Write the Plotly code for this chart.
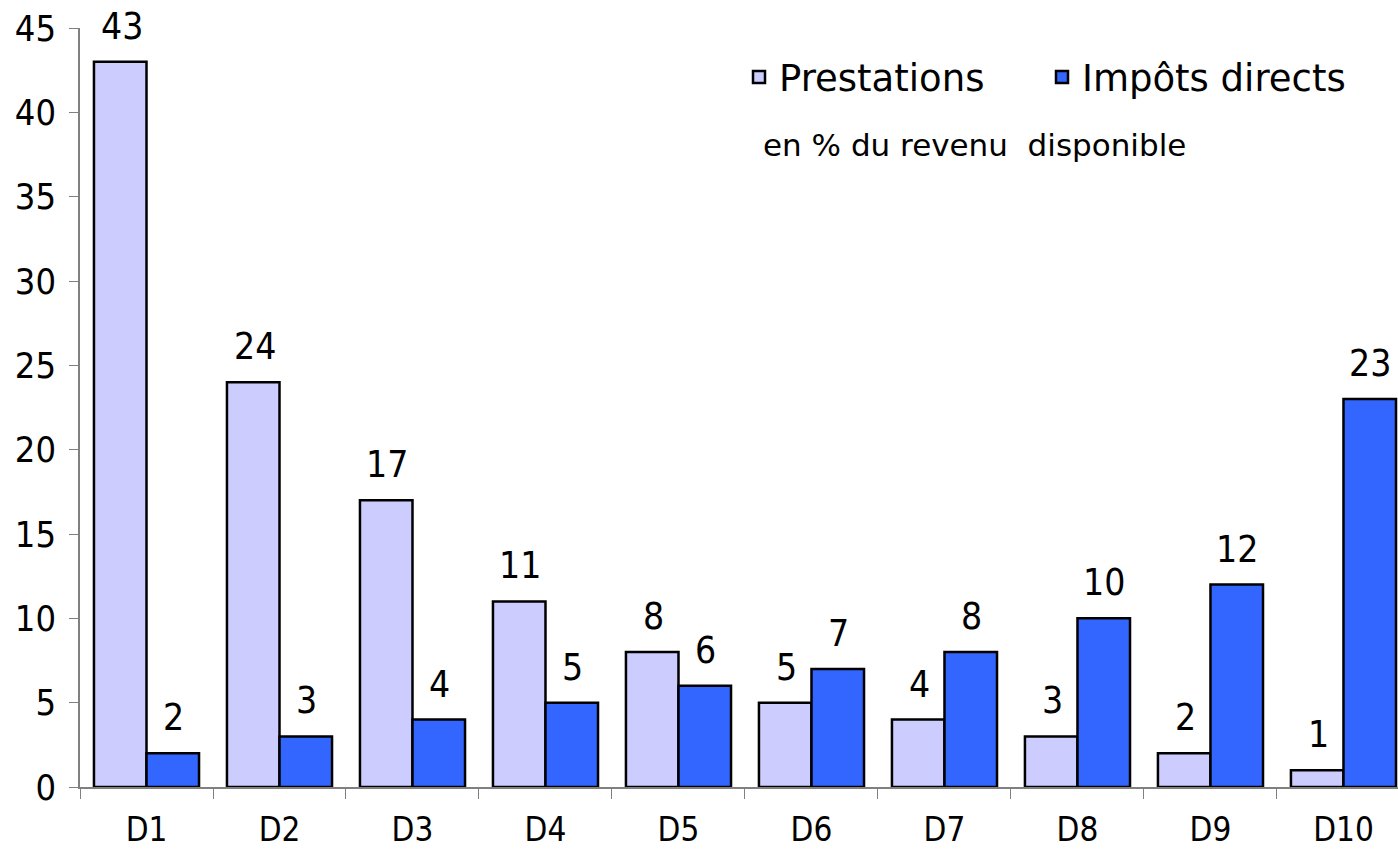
import plotly.graph_objects as go

deciles = ["D1", "D2", "D3", "D4", "D5", "D6", "D7", "D8", "D9", "D10"]
prestations = [43, 24, 17, 11, 8, 5, 4, 3, 2, 1]
impots_directs = [2, 3, 4, 5, 6, 7, 8, 10, 12, 23]

COND = "DejaVu Sans Condensed, DejaVu Sans, sans-serif"
NORMAL = "DejaVu Sans, sans-serif"

fig = go.Figure()
fig.add_trace(go.Bar(
    x=deciles, y=prestations, name="Prestations",
    marker=dict(color="#CCCCFF", line=dict(color="black", width=2.5)),
))
fig.add_trace(go.Bar(
    x=deciles, y=impots_directs, name="Impôts directs",
    marker=dict(color="#3366FF", line=dict(color="black", width=2.5)),
))

# étiquettes de valeurs au-dessus des barres
labels = []
for values, shift in [(prestations, -25), (impots_directs, 27)]:
    for d, v in zip(deciles, values):
        labels.append(dict(
            x=d, y=v, text=str(v), showarrow=False,
            xshift=shift, yshift=12, yanchor="bottom",
            font=dict(family=COND, size=37, color="black"),
        ))

labels.append(dict(
    text="en % du revenu  disponible", xref="paper", yref="paper",
    x=0.517, y=0.846, xanchor="left", yanchor="middle", showarrow=False,
    font=dict(family=NORMAL, size=31, color="black"),
))

fig.update_layout(
    width=1398, height=850,
    margin=dict(l=80, r=0, t=28, b=63),
    paper_bgcolor="white", plot_bgcolor="white",
    font=dict(family=COND, size=33, color="black"),
    barmode="group", bargap=0.21, bargroupgap=0,
    showlegend=True,
    legend=dict(
        orientation="h", x=0.5, y=0.935, xanchor="left", yanchor="middle",
        font=dict(family=NORMAL, size=37), bgcolor="rgba(0,0,0,0)",
        entrywidth=258, entrywidthmode="pixels",
    ),
    annotations=labels,
)
fig.update_xaxes(
    range=[-0.5, 9.41],
    showline=True, linecolor="#808080", linewidth=1.5,
    ticks="outside", tickson="boundaries", ticklen=10, tickcolor="#808080",
    tickfont=dict(size=33), showgrid=False, automargin=False,
    ticklabelstandoff=13, ticklabeloverflow="allow",
)
fig.update_yaxes(
    range=[0, 45], dtick=5, showline=True, linecolor="#808080", linewidth=1.5,
    ticks="outside", ticklen=9, tickcolor="#808080",
    tickfont=dict(size=36), showgrid=False, zeroline=False, automargin=False,
    ticklabelstandoff=6, ticklabeloverflow="allow",
)

# supprime la marge par défaut de la page pour que la figure occupe toute la fenêtre
fig.write_html(
    "out.html",
    config={"displayModeBar": False},
    post_script="document.body.style.margin = '0';",
)
